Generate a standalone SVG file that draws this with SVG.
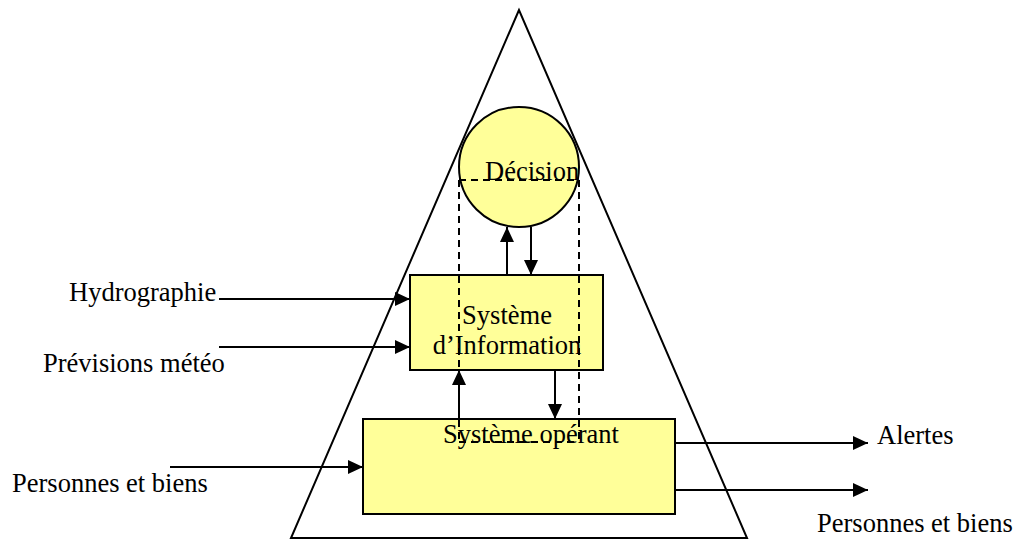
<svg xmlns="http://www.w3.org/2000/svg" width="1015" height="539" viewBox="0 0 1015 539">
<style>
text{font-family:"Liberation Serif","Times New Roman",serif;font-size:26.5px;fill:#000}
.box{fill:#FFFF99;stroke:#000;stroke-width:2}
.ln{stroke:#000;stroke-width:2;fill:none}
.dash{stroke:#000;stroke-width:2;fill:none;stroke-dasharray:7 5}
</style>
<defs>
<marker id="ah" viewBox="0 0 15 14" refX="15" refY="7" markerWidth="15" markerHeight="14" markerUnits="userSpaceOnUse" orient="auto">
<path d="M0,0 L15,7 L0,14 Z" fill="#000"/>
</marker>
</defs>
<rect width="1015" height="539" fill="#fff"/>
<g id="pyramid"><polygon points="519,10 291,538 747,538" class="ln"/></g>
<g id="decision"><circle cx="519" cy="167" r="60" class="box"/><text x="485" y="180">Décision</text></g>
<g id="si"><rect x="410" y="275" width="193" height="95" class="box"/><text x="507" y="324" text-anchor="middle">Système</text><text x="507" y="354" text-anchor="middle">d’Information</text></g>
<g id="so"><rect x="363" y="419" width="312" height="95" class="box"/><text x="443" y="443">Système opérant</text></g>
<g id="dashed"><path d="M459,180 H579 M459,180 V442 M579,180 V442 M459,442 H579" class="dash"/></g>
<g id="connectors">
<path d="M507,275 V227" class="ln" marker-end="url(#ah)"/>
<path d="M531,227 V275" class="ln" marker-end="url(#ah)"/>
<path d="M459,419 V370" class="ln" marker-end="url(#ah)"/>
<path d="M555,370 V419" class="ln" marker-end="url(#ah)"/>
<path d="M219,299 H410" class="ln" marker-end="url(#ah)"/>
<path d="M219,347 H410" class="ln" marker-end="url(#ah)"/>
<path d="M170,467 H363" class="ln" marker-end="url(#ah)"/>
<path d="M675,443 H868" class="ln" marker-end="url(#ah)"/>
<path d="M675,490 H868" class="ln" marker-end="url(#ah)"/>
</g>
<g id="labels">
<text x="69" y="301">Hydrographie</text>
<text x="43" y="372">Prévisions météo</text>
<text x="12" y="492">Personnes et biens</text>
<text x="877" y="444">Alertes</text>
<text x="817" y="532">Personnes et biens</text>
</g>
</svg>
